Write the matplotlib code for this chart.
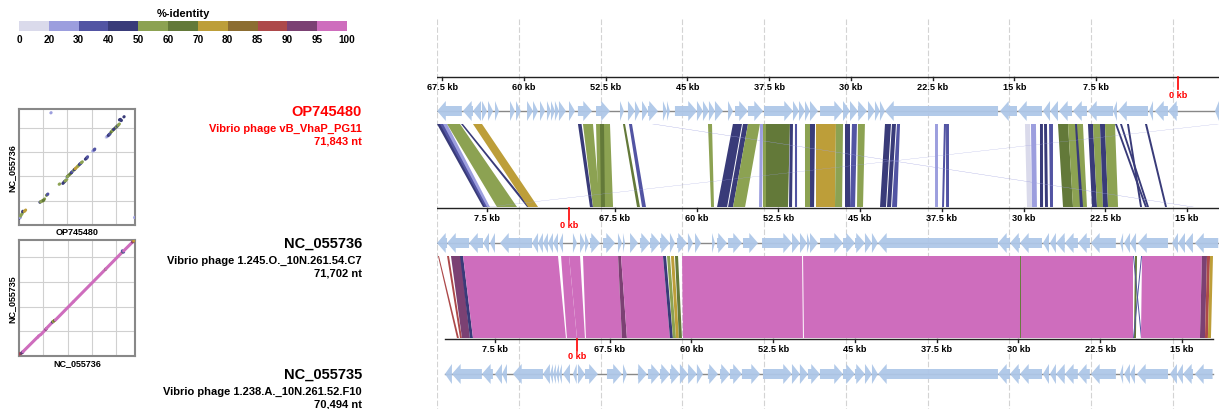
import matplotlib
matplotlib.use("Agg")
import matplotlib.pyplot as plt
from matplotlib.patches import Polygon, Rectangle
import numpy as np

plt.rcParams['font.family'] = ['Liberation Sans', 'DejaVu Sans']
plt.rcParams['font.weight'] = 'bold'

# ---------------- data ----------------
genome_names = ["OP745480", "NC_055736", "NC_055735"]
genome_desc = ["Vibrio phage vB_VhaP_PG11",
               "Vibrio phage 1.245.O._10N.261.54.C7",
               "Vibrio phage 1.238.A._10N.261.52.F10"]
genome_len_kb = [71.843, 71.702, 70.494]
genome_len_label = ["71,843 nt", "71,702 nt", "70,494 nt"]
# genome coordinate (kb) drawn at the left end of each (reverse-complemented) track
track_left_kb = [67.98, 12.11, 12.11]
track_left_offset_kb = [0.0, 0.0, 0.73]

identity_bins = [0, 20, 30, 40, 50, 60, 70, 80, 85, 90, 95, 100]
identity_colors = ["#dadaeb", "#9c9ede", "#5254a3", "#393b79", "#8ca252", "#637939",
                   "#bd9e39", "#8c6d31", "#ad494a", "#7b4173", "#ce6dbd"]

tick_kb = [0, 7.5, 15, 22.5, 30, 37.5, 45, 52.5, 60, 67.5]
tick_labels = ["0 kb", "7.5 kb", "15 kb", "22.5 kb", "30 kb", "37.5 kb",
               "45 kb", "52.5 kb", "60 kb", "67.5 kb"]

# genes: (start kb, end kb, strand)
genes_OP745480 = [
    (65.70, 67.97, 1), (64.68, 65.60, 1), (63.94, 64.68, 1), (63.39, 63.85, -1),
    (62.84, 63.30, -1), (62.29, 62.66, -1), (60.83, 61.28, -1), (60.28, 60.73, -1),
    (59.17, 59.72, -1), (58.72, 59.17, -1), (58.07, 58.53, -1), (57.52, 57.89, -1),
    (57.16, 57.52, -1), (56.79, 57.16, -1), (56.15, 56.79, -1), (55.32, 55.87, -1),
    (53.76, 55.05, -1), (52.11, 53.39, -1), (50.83, 51.19, -1), (49.82, 50.46, -1),
    (49.36, 49.82, -1), (48.62, 49.17, -1), (47.71, 48.62, -1), (46.88, 47.25, -1),
    (46.61, 46.88, -1), (44.13, 46.15, -1), (43.58, 44.13, -1), (43.03, 43.58, -1),
    (42.48, 43.03, -1), (41.74, 42.48, -1), (40.83, 41.28, -1), (39.45, 40.64, -1),
    (38.07, 39.45, -1), (35.32, 37.98, -1), (34.77, 35.32, -1), (34.22, 34.77, -1),
    (33.76, 34.22, -1), (33.03, 33.76, -1), (30.73, 32.84, -1), (30.09, 30.73, -1),
    (29.36, 30.09, -1), (28.53, 29.36, -1), (27.80, 28.44, -1), (27.34, 27.80, -1),
    (26.88, 27.34, -1), (16.51, 26.88, 1), (14.77, 16.33, 1), (12.48, 14.68, 1),
    (11.74, 12.39, 1), (11.01, 11.74, 1), (9.72, 10.92, 1), (8.35, 9.63, 1),
    (5.96, 8.26, 1), (5.60, 5.96, 1), (2.75, 5.50, 1), (2.29, 2.66, 1),
    (0.92, 2.11, 1), (0.02, 0.92, 1), (68.08, 68.45, 1),
]
genes_NC_055736 = [
    (11.19, 12.11, 1), (9.17, 11.19, 1), (7.89, 9.17, 1), (7.34, 7.89, 1),
    (6.79, 7.25, 1), (3.39, 6.33, 1), (2.84, 3.39, 1), (2.39, 2.84, 1),
    (1.93, 2.39, 1), (1.47, 1.93, 1), (1.01, 1.47, 1), (0.55, 0.92, 1),
    (70.97, 71.34, -1), (70.23, 70.69, -1), (69.87, 70.23, -1), (68.86, 69.78, -1),
    (67.48, 68.58, -1), (66.84, 67.21, -1), (66.56, 66.75, -1), (65.37, 66.10, -1),
    (64.27, 65.19, -1), (63.35, 64.27, -1), (62.44, 63.35, -1), (61.98, 62.44, -1),
    (60.88, 61.79, -1), (60.33, 60.79, -1), (59.59, 60.14, -1), (58.31, 58.58, -1),
    (57.21, 58.12, -1), (55.83, 57.11, -1), (54.36, 55.74, -1), (51.24, 53.99, -1),
    (50.51, 51.24, -1), (49.87, 50.51, -1), (49.59, 49.87, -1), (48.86, 49.59, -1),
    (46.56, 48.67, -1), (45.46, 46.56, -1), (44.55, 45.46, -1), (43.91, 44.55, -1),
    (43.36, 43.91, -1), (32.35, 43.36, 1), (31.24, 32.35, 1), (30.33, 31.24, 1),
    (28.31, 30.33, 1), (27.67, 28.22, 1), (27.03, 27.58, 1), (26.21, 27.03, 1),
    (25.01, 26.21, 1), (23.91, 25.01, 1), (21.53, 23.82, 1), (20.87, 21.15, 1),
    (20.23, 20.78, 1), (19.68, 20.23, 1), (16.75, 19.50, 1), (15.83, 16.38, 1),
    (15.19, 15.83, 1), (14.46, 15.19, 1), (12.14, 14.27, 1),
]
genes_NC_055735 = [
    (11.47, 12.11, 1), (8.72, 11.47, 1), (7.71, 8.72, 1), (6.88, 7.52, 1),
    (6.42, 6.88, 1), (3.12, 5.87, 1), (2.48, 3.12, 1), (2.20, 2.48, 1),
    (1.93, 2.20, 1), (1.65, 1.93, 1), (1.38, 1.65, 1), (0.64, 1.28, 1),
    (0.02, 0.37, 1), (69.76, 70.40, -1), (68.57, 69.76, -1), (66.37, 67.74, -1),
    (65.91, 66.27, -1), (64.07, 64.90, -1), (62.88, 63.98, -1), (61.96, 62.88, -1),
    (61.05, 61.96, -1), (60.31, 61.05, -1), (59.49, 60.31, -1), (58.93, 59.49, -1),
    (57.56, 58.48, -1), (56.46, 57.37, -1), (55.36, 56.46, -1), (53.70, 55.36, -1),
    (50.77, 53.43, -1), (50.04, 50.77, -1), (49.30, 50.04, -1), (48.20, 49.30, -1),
    (46.09, 48.20, -1), (44.99, 46.09, -1), (44.07, 44.99, -1), (43.43, 44.07, -1),
    (42.88, 43.43, -1), (31.87, 42.88, 1), (30.77, 31.87, 1), (29.85, 30.77, 1),
    (27.83, 29.85, 1), (27.19, 27.74, 1), (26.55, 27.10, 1), (25.73, 26.55, 1),
    (24.54, 25.73, 1), (23.44, 24.54, 1), (21.05, 23.34, 1), (20.39, 20.68, 1),
    (19.76, 20.30, 1), (19.30, 19.76, 1), (16.27, 19.12, 1), (15.45, 16.09, 1),
    (14.90, 15.45, 1), (13.98, 14.90, 1), (12.18, 13.80, 1),
]

# links: (query start, query end, subject start, subject end, %identity)
links_OP745480_NC_055736 = [
    (67.61, 67.98, 7.61, 7.89, 45), (67.34, 67.71, 7.43, 7.71, 35),
    (67.06, 67.43, 7.25, 7.52, 25), (65.87, 67.06, 4.77, 6.61, 55),
    (65.60, 65.78, 3.58, 3.85, 45), (63.85, 64.68, 2.84, 3.76, 75),
    (54.72, 55.05, 69.50, 69.78, 45), (53.67, 54.59, 68.86, 69.50, 55),
    (52.11, 53.39, 67.66, 69.04, 55), (52.66, 53.03, 68.40, 68.77, 65),
    (50.73, 50.92, 65.19, 65.46, 65), (50.09, 50.37, 64.64, 65.00, 35),
    (42.75, 43.12, 58.40, 58.67, 55), (40.00, 40.83, 57.20, 58.12, 45),
    (39.45, 39.91, 56.65, 57.11, 45), (38.35, 39.45, 55.55, 56.65, 55),
    (38.07, 38.35, 53.99, 54.27, 25), (35.60, 38.07, 51.61, 53.90, 65),
    (37.80, 38.07, 53.63, 53.90, 55), (35.32, 35.60, 51.24, 51.52, 45),
    (34.95, 35.14, 50.78, 50.97, 35), (33.76, 34.22, 49.59, 50.05, 55),
    (33.30, 33.76, 49.22, 49.59, 45), (31.38, 33.21, 47.30, 49.04, 75),
    (30.73, 31.38, 46.65, 47.30, 55), (30.09, 30.55, 45.92, 46.38, 45),
    (29.45, 29.91, 45.46, 45.92, 35), (28.72, 29.36, 44.73, 45.28, 55),
    (26.33, 26.88, 42.62, 43.17, 45), (25.87, 26.24, 42.16, 42.53, 45),
    (25.50, 25.78, 41.61, 42.07, 35), (22.02, 22.29, 37.85, 38.12, 25),
    (21.28, 21.47, 37.30, 37.48, 35), (21.01, 21.28, 36.84, 37.11, 35),
    (13.58, 14.04, 29.22, 29.68, 15), (13.03, 13.49, 28.77, 29.22, 25),
    (12.39, 12.66, 28.21, 28.49, 45), (12.02, 12.29, 27.76, 28.03, 45),
    (11.47, 11.83, 27.30, 27.57, 35), (10.09, 11.01, 25.46, 26.38, 65),
    (8.72, 10.09, 24.18, 25.46, 55), (9.27, 9.45, 24.54, 24.82, 45),
    (7.80, 8.26, 23.26, 23.72, 45), (7.16, 7.80, 22.71, 23.26, 55),
    (6.70, 7.16, 22.25, 22.71, 45), (5.78, 6.70, 21.33, 22.25, 55),
    (5.60, 5.78, 18.67, 18.86, 45), (5.14, 5.32, 18.49, 18.67, 45),
    (4.50, 4.68, 19.13, 19.31, 45), (2.84, 3.03, 16.84, 17.02, 45),
    (68.08, 68.26, 7.34, 7.52, 25), (48.07, 48.26, 14.36, 14.54, 25),
]
links_NC_055736_NC_055735 = [
    (11.93, 12.02, 10.83, 11.01, 87), (11.01, 11.19, 10.55, 10.73, 87),
    (9.91, 10.83, 9.82, 10.55, 92), (9.72, 10.00, 9.54, 9.82, 45),
    (1.01, 9.72, 1.01, 9.54, 97), (0.00, 0.73, 0.00, 0.92, 97),
    (70.69, 71.70, 69.76, 70.49, 97), (67.20, 70.42, 66.37, 69.67, 97),
    (66.93, 67.20, 65.91, 66.37, 92), (63.08, 66.93, 61.96, 65.91, 97),
    (62.80, 63.08, 61.69, 61.96, 45), (62.44, 62.71, 61.41, 61.69, 55),
    (62.07, 62.35, 61.14, 61.41, 75), (61.70, 61.98, 60.86, 61.14, 65),
    (50.32, 61.33, 49.76, 60.77, 97), (30.32, 50.23, 29.85, 49.67, 97),
    (30.23, 30.32, 29.76, 29.85, 65), (19.96, 30.23, 19.48, 29.76, 97),
    (19.59, 19.78, 19.21, 19.39, 65), (19.87, 19.96, 18.66, 18.75, 35),
    (19.13, 19.22, 19.39, 19.48, 35), (13.63, 19.13, 13.34, 18.75, 97),
    (13.17, 13.63, 12.88, 13.34, 92), (12.89, 13.17, 12.61, 12.88, 87),
    (12.62, 12.89, 12.33, 12.61, 75),
]

all_genes = [genes_OP745480, genes_NC_055736, genes_NC_055735]
all_links = [links_OP745480_NC_055736, links_NC_055736_NC_055735]

# ---------------- style / layout ----------------
W, H = 1219, 410
PX_PER_KB = 10.9
GENE_COLOR = "#aec7e8"
ruler_y = [78, 209, 340]
gene_y = [112, 244, 375]
link_y = [(125, 208), (257, 339)]
label_y = [112, 244, 375]
label_colors = ["#ff0000", "black", "black"]


def id_color(v):
    i = int(np.clip(np.searchsorted(identity_bins, v, side="right") - 1, 0, len(identity_colors) - 1))
    return identity_colors[i]


def disp(t, pos, rel=False):
    d = (track_left_kb[t] - pos) % genome_len_kb[t]
    return d if rel else d + track_left_offset_kb[t]


fig = plt.figure(figsize=(W / 100, H / 100), dpi=100)


def fax(x, y, w, h):
    return fig.add_axes([x / W, 1 - (y + h) / H, w / W, h / H])


# ---- main panel ----
ax = fax(437, 0, 782, 410)
ax.set_xlim(0, 782 / PX_PER_KB)
ax.set_ylim(H, 0)
ax.axis("off")

for g in np.arange(0, 70, 7.5):
    ax.plot([g, g], [20, H], color="#d3d3d3", lw=0.8, ls=(0, (5, 2)), zorder=0)

HEAD = 0.8
BODY_H = 5.0
HEAD_H = 10.0

for t in range(3):
    L = genome_len_kb[t]
    x0 = track_left_offset_kb[t]
    x1 = x0 + L
    # ruler
    ax.plot([x0, x1], [ruler_y[t]] * 2, color="#222222", lw=1.0, zorder=3)
    for tk, tl in zip(tick_kb, tick_labels):
        xd = disp(t, tk)
        if tk == 0:
            ax.plot([xd, xd], [ruler_y[t], ruler_y[t] + 12], color="red", lw=1.2, zorder=3)
            ax.text(xd, ruler_y[t] + 17, tl, ha="center", va="center", fontsize=6.6,
                    color="red", fontweight="bold")
        else:
            ax.plot([xd, xd], [ruler_y[t], ruler_y[t] + 3], color="#222222", lw=1.0, zorder=3)
            ax.text(xd, ruler_y[t] + 10, tl, ha="center", va="center", fontsize=6.6,
                    color="black", fontweight="bold")
    # backbone
    yc = gene_y[t]
    ax.plot([x0, x1], [yc, yc], color="#888888", lw=1.0, zorder=2)
    # genes
    for s, e, strand in all_genes[t]:
        a, b = disp(t, s), disp(t, e)
        xl, xr = min(a, b), max(a, b)
        length = xr - xl
        h = min(HEAD, length)
        if strand == 1:  # points left on reversed display
            pts = [(xl, yc), (xl + h, yc - HEAD_H), (xl + h, yc - BODY_H), (xr, yc - BODY_H),
                   (xr, yc + BODY_H), (xl + h, yc + BODY_H), (xl + h, yc + HEAD_H)]
        else:
            pts = [(xr, yc), (xr - h, yc - HEAD_H), (xr - h, yc - BODY_H), (xl, yc - BODY_H),
                   (xl, yc + BODY_H), (xr - h, yc + BODY_H), (xr - h, yc + HEAD_H)]
        ax.add_patch(Polygon(pts, closed=True, facecolor=GENE_COLOR, edgecolor="none",
                             alpha=0.95, zorder=4))

# links
for k in range(2):
    yt, yb = link_y[k]
    for qs, qe, ss, se, ident in all_links[k]:
        pts = [(disp(k, qs), yt), (disp(k, qe), yt), (disp(k + 1, se), yb), (disp(k + 1, ss), yb)]
        ax.add_patch(Polygon(pts, closed=True, facecolor=id_color(ident), edgecolor="none",
                             zorder=1))

# ---- genome labels ----
for t in range(3):
    fig.text(362 / W, 1 - label_y[t] / H, genome_names[t], ha="right", va="center",
             fontsize=10.5, fontweight="bold", color=label_colors[t])
    fig.text(362 / W, 1 - (label_y[t] + 17) / H, genome_desc[t], ha="right", va="center",
             fontsize=8, fontweight="bold", color=label_colors[t])
    fig.text(362 / W, 1 - (label_y[t] + 30) / H, genome_len_label[t], ha="right", va="center",
             fontsize=8, fontweight="bold", color=label_colors[t])

# ---- dot plots ----
dot_boxes = [(19, 110, 116, 116), (19, 241, 116, 116)]
for k in range(2):
    dax = fax(*dot_boxes[k])
    Lx, Ly = genome_len_kb[k], genome_len_kb[k + 1]
    dax.set_xlim(0, Lx)
    dax.set_ylim(0, Ly)
    dax.set_xticks(np.arange(15, Lx, 15))
    dax.set_yticks(np.arange(15, Ly, 15))
    dax.tick_params(length=0, labelbottom=False, labelleft=False)
    dax.grid(True, color="#d0d0d0", lw=0.8)
    dax.set_axisbelow(True)
    for sp in dax.spines.values():
        sp.set_color("#888888")
        sp.set_linewidth(1.5)
    for qs, qe, ss, se, ident in all_links[k]:
        xs = [disp(k, qs, True), disp(k, qe, True)]
        ys = [disp(k + 1, ss, True), disp(k + 1, se, True)]
        dax.plot(xs, ys, color=id_color(ident), lw=2.2, solid_capstyle="round", zorder=3)
    dax.set_xlabel(genome_names[k], fontsize=6.5, fontweight="bold", labelpad=1.5)
    dax.set_ylabel(genome_names[k + 1], fontsize=6.5, fontweight="bold", labelpad=2)

# ---- identity colour bar ----
cax = fax(19, 22, 328, 10)
n = len(identity_colors)
for i, c in enumerate(identity_colors):
    cax.add_patch(Rectangle((i, 0), 1, 1, facecolor=c, edgecolor="none"))
cax.set_xlim(0, n)
cax.set_ylim(0, 1)
cax.axis("off")
for i, b in enumerate(identity_bins):
    cax.text(i, -0.75, str(b), ha="center", va="center", fontsize=7.2, fontweight="bold")
cax.text(n / 2, 1.8, "%-identity", ha="center", va="center", fontsize=8, fontweight="bold")

fig.savefig("out.png", dpi=100)
